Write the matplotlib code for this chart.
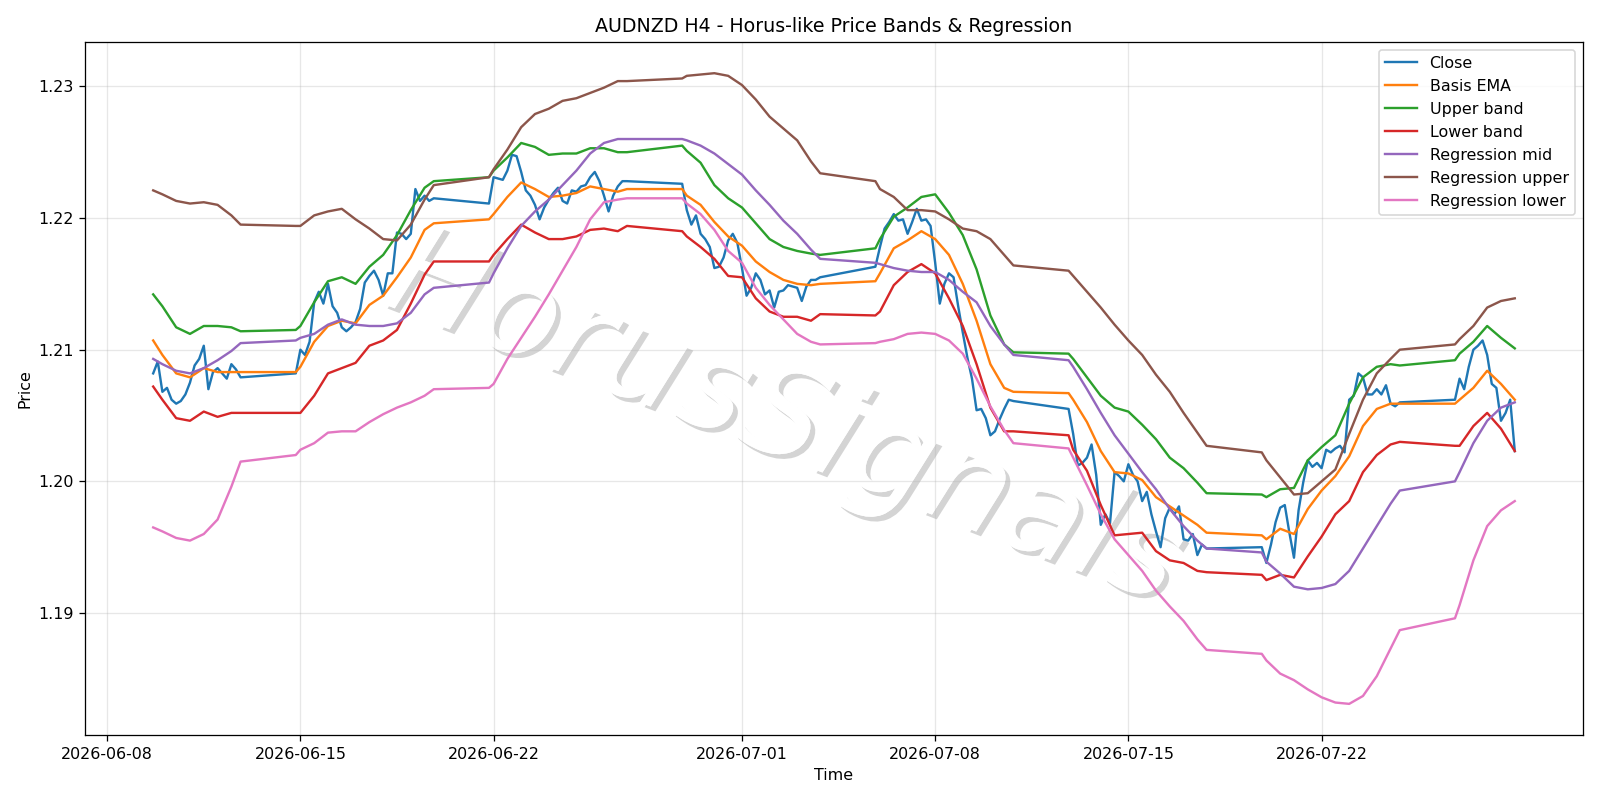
import numpy as np
import pandas as pd
import matplotlib
matplotlib.use("Agg")
import matplotlib.pyplot as plt
import matplotlib.patheffects as pe

# ---------------- time axis (H4 bars, weekend gap) ----------------
all_4h = pd.date_range("2026-06-09 16:00", "2026-07-29 00:00", freq="4h")
keep = (all_4h.weekday < 5) | ((all_4h.weekday == 6) & (all_4h.hour == 20))
bar_times = all_4h[keep]

# band / regression values are read every 12h (+ Fri 20:00 / Sun 20:00)
sel = np.asarray(bar_times.hour.isin([0, 12])) | (
    np.asarray(bar_times.hour == 20) & np.asarray(bar_times.weekday.isin([4, 6])))
sel[0] = True
band_times = bar_times[sel]

# ---------------- data ----------------
close = [
    # week 06-09 .. 06-12
    1.2082, 1.2091, 1.2068, 1.2071, 1.2062, 1.2059, 1.2061, 1.2066, 1.2075, 1.2088,
    1.2093, 1.2103, 1.2070, 1.2083, 1.2086, 1.2082, 1.2078, 1.2089, 1.2085, 1.2079,
    # week 06-14 .. 06-19
    1.2082,
    1.2100, 1.2096, 1.2106, 1.2136, 1.2144, 1.2135,
    1.2150, 1.2133, 1.2128, 1.2117, 1.2114, 1.2117,
    1.2121, 1.2131, 1.2151, 1.2156, 1.2160, 1.2153,
    1.2141, 1.2158, 1.2158, 1.2189, 1.2188, 1.2184,
    1.2188, 1.2222, 1.2213, 1.2217, 1.2213, 1.2215,
    # week 06-21 .. 06-26
    1.2211,
    1.2231, 1.2230, 1.2229, 1.2236, 1.2248, 1.2247,
    1.2235, 1.2221, 1.2217, 1.2210, 1.2199, 1.2208,
    1.2214, 1.2219, 1.2223, 1.2213, 1.2211, 1.2221,
    1.2220, 1.2224, 1.2225, 1.2231, 1.2235, 1.2228,
    1.2217, 1.2205, 1.2217, 1.2224, 1.2228, 1.2228,
    # week 06-28 .. 07-03
    1.2226,
    1.2206, 1.2195, 1.2202, 1.2188, 1.2184, 1.2178,
    1.2162, 1.2163, 1.2170, 1.2183, 1.2188, 1.2181,
    1.2162, 1.2141, 1.2147, 1.2158, 1.2153, 1.2142,
    1.2145, 1.2132, 1.2144, 1.2145, 1.2149, 1.2148,
    1.2147, 1.2137, 1.2148, 1.2153, 1.2153, 1.2155,
    # week 07-05 .. 07-10
    1.2163,
    1.2178, 1.2192, 1.2197, 1.2203, 1.2198, 1.2199,
    1.2188, 1.2197, 1.2207, 1.2198, 1.2199, 1.2194,
    1.2166, 1.2135, 1.2150, 1.2158, 1.2155, 1.2133,
    1.2113, 1.2094, 1.2078, 1.2054, 1.2055, 1.2048,
    1.2035, 1.2038, 1.2047, 1.2055, 1.2062, 1.2061,
    # week 07-12 .. 07-17
    1.2055,
    1.2036, 1.2012, 1.2014, 1.2018, 1.2028, 1.2005,
    1.1967, 1.1975, 1.1968, 1.2007, 1.2004, 1.2000,
    1.2013, 1.2005, 1.2000, 1.1985, 1.1992, 1.1975,
    1.1962, 1.1950, 1.1972, 1.1980, 1.1975, 1.1981,
    1.1956, 1.1955, 1.1960, 1.1944, 1.1952, 1.1949,
    # week 07-19 .. 07-24
    1.1950,
    1.1938, 1.1952, 1.1969, 1.1980, 1.1982, 1.1961,
    1.1942, 1.1978, 1.1999, 1.2016, 1.2011, 1.2014,
    1.2010, 1.2024, 1.2022, 1.2025, 1.2027, 1.2022,
    1.2062, 1.2065, 1.2082, 1.2079, 1.2066, 1.2066,
    1.2070, 1.2066, 1.2073, 1.2059, 1.2057, 1.2060,
    # week 07-26 .. 07-29
    1.2062,
    1.2078, 1.2070, 1.2087, 1.2100, 1.2103, 1.2107,
    1.2096, 1.2074, 1.2071, 1.2046, 1.2052, 1.2062,
    1.2023,
]

basis_ema = [
    1.2107, 1.2096, 1.2082, 1.2079, 1.2086, 1.2083, 1.2083, 1.2083,
    1.2083, 1.2087, 1.2106, 1.2118, 1.2122, 1.2120, 1.2134, 1.2141, 1.2155, 1.2170, 1.2191, 1.2196,
    1.2199, 1.2203, 1.2216, 1.2227, 1.2222, 1.2216, 1.2217, 1.2219, 1.2224, 1.2222, 1.2220, 1.2222,
    1.2222, 1.2217, 1.2210, 1.2197, 1.2186, 1.2179, 1.2167, 1.2159, 1.2153, 1.2150, 1.2149, 1.2150,
    1.2152, 1.2158, 1.2177, 1.2183, 1.2190, 1.2184, 1.2172, 1.2150, 1.2122, 1.2089, 1.2071, 1.2068,
    1.2067, 1.2062, 1.2045, 1.2023, 1.2007, 1.2006, 1.2001, 1.1988, 1.1981, 1.1974, 1.1967, 1.1961,
    1.1959, 1.1956, 1.1964, 1.1960, 1.1979, 1.1993, 1.2004, 1.2019, 1.2042, 1.2055, 1.2059, 1.2059,
    1.2059, 1.2062, 1.2071, 1.2084, 1.2074, 1.2062,
]

upper_band = [
    1.2142, 1.2133, 1.2117, 1.2112, 1.2118, 1.2118, 1.2117, 1.2114,
    1.2115, 1.2118, 1.2136, 1.2152, 1.2155, 1.2150, 1.2163, 1.2172, 1.2187, 1.2206, 1.2223, 1.2228,
    1.2231, 1.2236, 1.2246, 1.2257, 1.2254, 1.2248, 1.2249, 1.2249, 1.2253, 1.2253, 1.2250, 1.2250,
    1.2255, 1.2251, 1.2242, 1.2225, 1.2215, 1.2208, 1.2196, 1.2184, 1.2178, 1.2175, 1.2173, 1.2172,
    1.2177, 1.2184, 1.2201, 1.2208, 1.2216, 1.2218, 1.2204, 1.2187, 1.2161, 1.2126, 1.2104, 1.2098,
    1.2097, 1.2093, 1.2079, 1.2065, 1.2056, 1.2053, 1.2043, 1.2032, 1.2018, 1.2010, 1.1999, 1.1991,
    1.1990, 1.1988, 1.1994, 1.1995, 1.2016, 1.2026, 1.2035, 1.2059, 1.2079, 1.2087, 1.2089, 1.2088,
    1.2092, 1.2097, 1.2106, 1.2118, 1.2109, 1.2101,
]

lower_band = [
    1.2072, 1.2062, 1.2048, 1.2046, 1.2053, 1.2049, 1.2052, 1.2052,
    1.2052, 1.2052, 1.2065, 1.2082, 1.2086, 1.2090, 1.2103, 1.2107, 1.2115, 1.2135, 1.2157, 1.2167,
    1.2167, 1.2172, 1.2184, 1.2195, 1.2189, 1.2184, 1.2184, 1.2186, 1.2191, 1.2192, 1.2190, 1.2194,
    1.2190, 1.2186, 1.2178, 1.2169, 1.2156, 1.2155, 1.2139, 1.2129, 1.2125, 1.2125, 1.2122, 1.2127,
    1.2126, 1.2129, 1.2149, 1.2159, 1.2165, 1.2158, 1.2139, 1.2118, 1.2089, 1.2056, 1.2038, 1.2038,
    1.2035, 1.2024, 1.2008, 1.1982, 1.1959, 1.1960, 1.1961, 1.1947, 1.1940, 1.1938, 1.1932, 1.1931,
    1.1929, 1.1925, 1.1929, 1.1927, 1.1943, 1.1958, 1.1975, 1.1985, 1.2007, 1.2020, 1.2028, 1.2030,
    1.2027, 1.2027, 1.2042, 1.2052, 1.2040, 1.2023,
]

reg_mid = [
    1.2093, 1.2089, 1.2084, 1.2082, 1.2086, 1.2092, 1.2099, 1.2105,
    1.2107, 1.2109, 1.2112, 1.2119, 1.2123, 1.2119, 1.2118, 1.2118, 1.2120, 1.2128, 1.2142, 1.2147,
    1.2151, 1.2158, 1.2177, 1.2194, 1.2205, 1.2214, 1.2225, 1.2236, 1.2249, 1.2257, 1.2260, 1.2260,
    1.2260, 1.2259, 1.2255, 1.2249, 1.2241, 1.2233, 1.2221, 1.2210, 1.2198, 1.2188, 1.2176, 1.2169,
    1.2166, 1.2165, 1.2162, 1.2160, 1.2159, 1.2159, 1.2153, 1.2144, 1.2136, 1.2118, 1.2104, 1.2096,
    1.2092, 1.2087, 1.2070, 1.2052, 1.2035, 1.2021, 1.2007, 1.1994, 1.1979, 1.1966, 1.1955, 1.1949,
    1.1946, 1.1939, 1.1930, 1.1920, 1.1918, 1.1919, 1.1922, 1.1932, 1.1949, 1.1966, 1.1983, 1.1993,
    1.2000, 1.2007, 1.2029, 1.2046, 1.2056, 1.2060,
]

reg_upper = [
    1.2221, 1.2218, 1.2213, 1.2211, 1.2212, 1.2210, 1.2202, 1.2195,
    1.2194, 1.2194, 1.2202, 1.2205, 1.2207, 1.2199, 1.2192, 1.2184, 1.2183, 1.2195, 1.2214, 1.2225,
    1.2231, 1.2237, 1.2252, 1.2269, 1.2279, 1.2283, 1.2289, 1.2291, 1.2295, 1.2299, 1.2304, 1.2304,
    1.2306, 1.2308, 1.2309, 1.2310, 1.2308, 1.2301, 1.2290, 1.2277, 1.2268, 1.2259, 1.2243, 1.2234,
    1.2228, 1.2222, 1.2216, 1.2206, 1.2206, 1.2205, 1.2199, 1.2192, 1.2190, 1.2184, 1.2172, 1.2164,
    1.2160, 1.2156, 1.2144, 1.2132, 1.2119, 1.2107, 1.2096, 1.2081, 1.2068, 1.2052, 1.2037, 1.2027,
    1.2022, 1.2016, 1.2003, 1.1990, 1.1991, 1.2000, 1.2009, 1.2036, 1.2062, 1.2082, 1.2093, 1.2100,
    1.2104, 1.2108, 1.2118, 1.2132, 1.2137, 1.2139,
]

reg_lower = [
    1.1965, 1.1962, 1.1957, 1.1955, 1.1960, 1.1971, 1.1996, 1.2015,
    1.2020, 1.2024, 1.2029, 1.2037, 1.2038, 1.2038, 1.2045, 1.2051, 1.2056, 1.2060, 1.2065, 1.2070,
    1.2071, 1.2074, 1.2093, 1.2109, 1.2125, 1.2142, 1.2160, 1.2178, 1.2199, 1.2212, 1.2214, 1.2215,
    1.2215, 1.2211, 1.2203, 1.2191, 1.2175, 1.2166, 1.2147, 1.2134, 1.2123, 1.2112, 1.2106, 1.2104,
    1.2105, 1.2106, 1.2108, 1.2112, 1.2113, 1.2112, 1.2107, 1.2097, 1.2078, 1.2057, 1.2039, 1.2029,
    1.2025, 1.2018, 1.1997, 1.1975, 1.1956, 1.1944, 1.1932, 1.1917, 1.1905, 1.1894, 1.1880, 1.1872,
    1.1869, 1.1864, 1.1854, 1.1849, 1.1842, 1.1836, 1.1832, 1.1831, 1.1837, 1.1852, 1.1873, 1.1887,
    1.1896, 1.1906, 1.1940, 1.1966, 1.1978, 1.1985,
]

series = [
    ("Close", bar_times, close),
    ("Basis EMA", band_times, basis_ema),
    ("Upper band", band_times, upper_band),
    ("Lower band", band_times, lower_band),
    ("Regression mid", band_times, reg_mid),
    ("Regression upper", band_times, reg_upper),
    ("Regression lower", band_times, reg_lower),
]

# ---------------- plot ----------------
DPI = 1600 / 14
fig, ax = plt.subplots(figsize=(14, 7), dpi=DPI)

ax.text(0.49, 0.476, "HorusSignals", transform=fig.transFigure, fontsize=81,
        color="white", style="italic", rotation=-21, ha="center", va="center",
        zorder=1,
        path_effects=[pe.withSimplePatchShadow(offset=(3, -3), alpha=0.24),
                      pe.Normal()])

for name, t, v in series:
    n = min(len(t), len(v))
    ax.plot(t[:n], v[:n], label=name, zorder=2)

ax.set_title("AUDNZD H4 - Horus-like Price Bands & Regression")
ax.set_xlabel("Time")
ax.set_ylabel("Price")
ax.grid(True, alpha=0.3)
ax.legend(loc="upper right")

fig.tight_layout()
fig.savefig("out.png", dpi=DPI)
